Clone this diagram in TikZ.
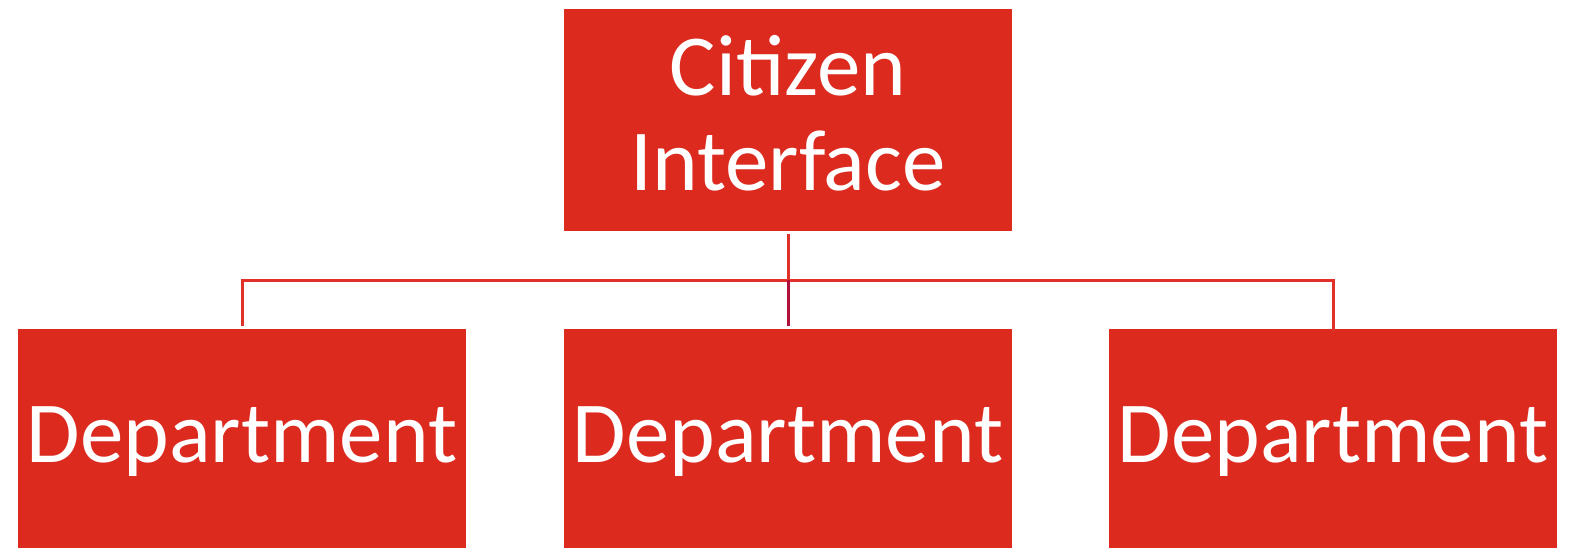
\documentclass[tikz,border=0pt]{standalone}
\usepackage{fontspec}
\setmainfont{Carlito}
\definecolor{boxred}{HTML}{DC2A1F}
\definecolor{linered}{HTML}{E0302A}
\definecolor{linedark}{HTML}{B0103A}
\begin{document}
\begin{tikzpicture}[x=1pt,y=-1pt,
  box/.style={fill=boxred,draw=none,rectangle,inner sep=0pt,minimum width=448pt},
  txt/.style={text=white,inner sep=0pt,font=\fontsize{87}{95}\selectfont},
  conn/.style={draw=linered,line width=3pt},
  conndark/.style={draw=linedark,line width=3pt}]
\useasboundingbox (0,0) rectangle (1574,548);
\node[box,minimum height=222pt] (ci) at (788,120) {};
\node[box,minimum height=219pt] (d1) at (242,438.5) {};
\node[box,minimum height=219pt] (d2) at (788,438.5) {};
\node[box,minimum height=219pt] (d3) at (1333,438.5) {};
\node[txt,anchor=base] (ci1) at (788,96) {Citizen};
\node[txt,anchor=base] (ci2) at (788,191) {Interface};
\node[txt,anchor=base] (t1) at (242,462) {Department};
\node[txt,anchor=base] (t2) at (788,462) {Department};
\node[txt,anchor=base] (t3) at (1333,462) {Department};
\coordinate (j) at (788,280);
\draw[conn,shorten <=3pt] (ci.south) -- (j);
\draw[conn,line join=miter] (d1.north) ++(0,-3) -- (d1.north |- j) -- (d3.north |- j) -- ([yshift=-3pt]d3.north);
\draw[conndark,shorten >=3pt] (j) -- (d2.north);
\end{tikzpicture}
\end{document}
